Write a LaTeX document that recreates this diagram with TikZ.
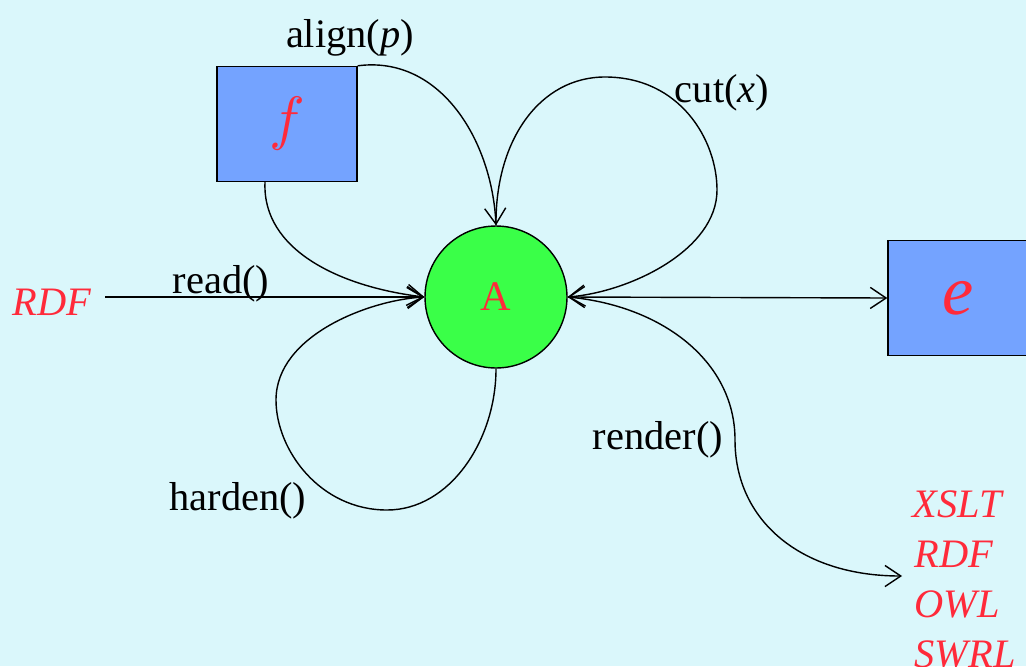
\documentclass[tikz,border=0pt]{standalone}
\usepackage{fontspec}
\setmainfont{Liberation Serif}
\usetikzlibrary{arrows.meta}
\definecolor{bg}{HTML}{DAF7FB}
\definecolor{boxblue}{HTML}{74A3FF}
\definecolor{agreen}{HTML}{3AFF48}
\definecolor{txtred}{HTML}{FF2A3A}
\begin{document}
\begin{tikzpicture}[x=0.02cm,y=-0.02cm,
  line width=0.8pt,
  lbl/.style={font=\fontsize{23}{27}\selectfont, inner sep=0pt, anchor=base},
  redit/.style={font=\fontsize{23}{27}\selectfont\itshape, text=txtred, inner sep=0pt, anchor=base west},
  boxnode/.style={draw, fill=boxblue, minimum width=2.8cm, minimum height=2.3cm, inner sep=0pt, text=txtred},
  arr/.style={-{Straight Barb[length=9pt,width=12pt]}},
  darr/.style={{Straight Barb[length=9pt,width=12pt]}-{Straight Barb[length=9pt,width=12pt]}}
]
\path[use as bounding box, fill=bg] (0,0) rectangle (1026,666);
\clip (0,0) rectangle (1026,666);

% nodes
\node[boxnode] (f) at (287,124) {\scalebox{3.4}{$f$}};
\node[boxnode, font=\fontsize{40}{44}\selectfont\itshape] (e) at (958,298) {e};
\node[circle, draw, fill=agreen, minimum size=2.84cm, inner sep=0pt, text=txtred,
      font=\fontsize{24}{28}\selectfont] (A) at (496,297) {A};

% text nodes
\node[redit] (rdf) at (12,315) {RDF};
\coordinate (rdfs) at (105,297);
\node[redit] (x1) at (912,517) {XSLT};
\node[redit] (x2) at (914,567) {RDF};
\node[redit] (x3) at (914,617) {OWL};
\node[redit] (x4) at (914,667) {SWRL};
\coordinate (rtip) at (902,576);

% labels
\node[lbl] (lalign) at (350,47) {align(\textit{p})};
\node[lbl] (lcut) at (722,102) {cut(\textit{x})};
\node[lbl] (lread) at (221,293) {read()};
\node[lbl] (lharden) at (238,510) {harden()};
\node[lbl] (lrender) at (658,449) {render()};

% connectors
\draw[arr] (f.north east) .. controls (440,55) and (492,140) .. (A.north);
\draw[arr] (A.north) .. controls (495,140) and (540,77) .. (605,77)
  .. controls (680,77) and (717,140) .. (717,190)
  .. controls (717,250) and (630,292) .. (A.east);
\draw[arr] ([xshift=-0.44cm]f.south) .. controls (262,250) and (340,287) .. (A.west);
\draw[arr] (rdfs) -- (A.west);
\draw[arr] (A.south) .. controls (496,440) and (450,510) .. (387,510)
  .. controls (320,510) and (276,450) .. (276,400)
  .. controls (276,335) and (370,300) .. (A.west);
\draw[arr] (A.east) .. controls (660,305) and (735,360) .. (735,440)
  .. controls (735,520) and (800,576) .. (rtip);
\draw[darr] (A.east) -- (e.west);
\end{tikzpicture}
\end{document}
